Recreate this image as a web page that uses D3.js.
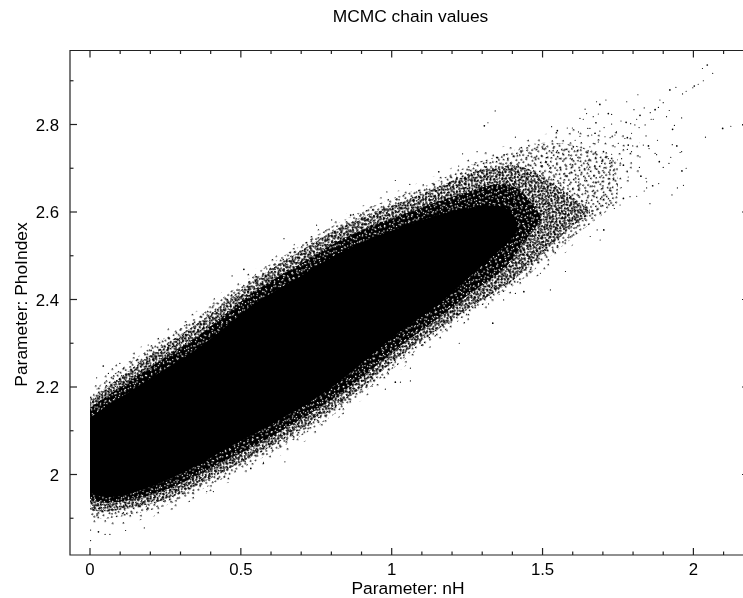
<!DOCTYPE html>
<html><head><meta charset="utf-8">
<script src="https://cdnjs.cloudflare.com/ajax/libs/d3/7.8.5/d3.min.js"></script>
<style>html,body{margin:0;padding:0;background:#fff;overflow:hidden}svg{display:block;filter:blur(0.4px)}text{font-family:"Liberation Sans",Arial,sans-serif;fill:#000}</style>
</head><body><div id="c"></div>
<script>
const titleText="MCMC chain values", xLabel="Parameter: nH", yLabel="Parameter: PhoIndex";
const xMajor=[0,0.5,1,1.5,2], yMajor=[2,2.2,2.4,2.6,2.8];
const xMinor=[0.1,0.2,0.3,0.4,0.6,0.7,0.8,0.9,1.1,1.2,1.3,1.4,1.6,1.7,1.8,1.9,2.1];
const yMinor=[1.9,2.1,2.3,2.5,2.7,2.9];
// saturated core of the cloud
const coreNH=[0,.033,.099,.242,.355,.464,.554,.696,.795,.935,1.027,1.160,1.270,1.382,1.415];
const coreHi=[2.129,2.147,2.175,2.239,2.285,2.346,2.399,2.451,2.497,2.543,2.563,2.598,2.611,2.621,2.577];
const coreLo=[1.958,1.949,1.946,1.981,2.019,2.065,2.095,2.152,2.193,2.273,2.330,2.387,2.461,2.525,2.554];
// nearly saturated ring
const nearNH=[0,.033,.099,.242,.355,.464,.554,.696,.795,.935,1.027,1.160,1.270,1.382,1.448,1.492];
const nearHi=[2.152,2.170,2.198,2.266,2.312,2.376,2.426,2.479,2.525,2.571,2.591,2.627,2.650,2.673,2.639,2.593];
const nearLo=[1.942,1.935,1.935,1.960,1.997,2.038,2.067,2.125,2.166,2.239,2.296,2.358,2.422,2.467,2.543,2.577];
// half-covered ring
const midNH=[0,.033,.099,.242,.355,.464,.554,.696,.795,.935,1.027,1.160,1.270,1.382,1.448,1.601,1.657];
const midHi=[2.170,2.189,2.221,2.296,2.342,2.403,2.451,2.509,2.554,2.600,2.621,2.657,2.696,2.707,2.707,2.634,2.605];
const midLo=[1.919,1.914,1.919,1.937,1.974,2.015,2.045,2.102,2.143,2.216,2.273,2.335,2.387,2.433,2.467,2.575,2.593];
// lightly covered ring
const lightNH=[0,.033,.099,.242,.355,.464,.554,.696,.795,.935,1.027,1.160,1.270,1.382,1.448,1.601,1.750];
const lightHi=[2.177,2.207,2.239,2.312,2.358,2.417,2.463,2.522,2.566,2.614,2.637,2.671,2.714,2.730,2.760,2.760,2.720];
const lightLo=[1.903,1.896,1.903,1.923,1.960,1.999,2.031,2.086,2.129,2.202,2.257,2.321,2.374,2.422,2.451,2.545,2.620];
// sparse outer ring
const sparseNH=[0,.033,.099,.242,.355,.464,.554,.696,.795,.935,1.027,1.160,1.270,1.382,1.448,1.601,1.723,1.823];
const sparseHi=[2.182,2.227,2.257,2.330,2.371,2.433,2.472,2.536,2.577,2.627,2.650,2.685,2.730,2.753,2.765,2.799,2.781,2.787];
const sparseLo=[1.885,1.873,1.885,1.907,1.946,1.983,2.015,2.067,2.113,2.189,2.239,2.307,2.358,2.410,2.433,2.513,2.639,2.685];
// individually readable chain samples
const sampleNH=[2.046,2.030,2.064,2.033,2.016,2.003,1.998,1.976,1.964,1.942,1.922,1.816,1.900,1.889,1.920,1.873,1.857,1.884,1.837,1.803,1.823,1.812,1.911,1.961,1.937,1.931,1.860,1.867,1.840,1.760,1.777,1.792,1.806,1.820,1.795,1.781,1.773,1.745,1.740,1.729,1.718,1.685,1.668,1.646,1.641,1.690,1.679,1.710,1.779,1.729,1.677,1.657,1.650,1.704,1.690,1.674,1.663,1.624,1.635,1.530,1.549,1.582,1.599,1.619,1.624,2.097,2.124,2.163,2.040,1.930,1.945,1.961,1.956,1.925,1.976,1.962,1.967,1.947,1.929,1.885,1.865,1.845,1.837,1.812,1.790,1.768,1.757,1.738,1.856,1.900,1.887,1.919,1.878,1.873,1.853,1.851,1.834,1.881,1.843,1.799,1.784,1.781,1.795,1.823,1.821,1.826,1.843,1.845,1.784,1.781,1.768,1.757,1.762,1.729,1.718,1.702,1.685,1.668,1.657,1.696,1.724,1.740,1.751,1.724,1.707,1.602,1.608,1.591,1.343,1.319,1.307,1.410,1.235,1.012,.984,1.156,1.060,1.283,1.222,1.526,1.438,1.410,1.576,1.493,1.691,1.703,1.681,1.658,1.062,1.029,1.012,1.062,.979,.935,1.224,1.335,1.321,1.371,.646,.575,.533,.180,.118,.050,.066,.028,.002,.002,.387,.409,.510,.643,.471,.751,.801,.864,.934,.586,.444,.193,.044,.099,.022,.061];
const samplePho=[2.936,2.928,2.917,2.900,2.892,2.888,2.884,2.876,2.870,2.885,2.879,2.868,2.850,2.856,2.832,2.834,2.827,2.839,2.838,2.834,2.821,2.812,2.818,2.815,2.798,2.789,2.812,2.812,2.799,2.808,2.805,2.802,2.799,2.793,2.780,2.770,2.768,2.783,2.776,2.823,2.825,2.824,2.818,2.825,2.835,2.846,2.852,2.856,2.852,2.801,2.804,2.791,2.791,2.793,2.785,2.780,2.776,2.814,2.812,2.795,2.786,2.792,2.792,2.783,2.773,2.791,2.796,2.799,2.771,2.754,2.751,2.738,2.736,2.725,2.700,2.694,2.661,2.655,2.639,2.665,2.660,2.655,2.648,2.636,2.635,2.631,2.616,2.608,2.619,2.702,2.715,2.711,2.731,2.734,2.745,2.751,2.753,2.764,2.774,2.751,2.753,2.743,2.738,2.726,2.702,2.682,2.677,2.669,2.680,2.692,2.707,2.707,2.722,2.732,2.722,2.738,2.760,2.757,2.749,2.711,2.696,2.749,2.757,2.770,2.772,2.749,2.764,2.753,2.831,2.804,2.797,2.771,2.733,2.672,2.646,2.692,2.663,2.738,2.705,2.422,2.418,2.414,2.464,2.460,2.536,2.559,2.559,2.544,2.243,2.211,2.211,2.214,2.195,2.202,2.300,2.346,2.390,2.399,2.029,2.028,2.014,1.878,1.872,1.863,1.863,1.869,1.849,1.873,1.961,1.961,2.469,2.539,2.454,2.570,2.582,2.593,2.612,2.470,2.404,2.296,2.248,2.254,2.221,2.231];

const W=743,H=598;
const x=d3.scaleLinear().domain([0,2]).range([90,693.4]);
const y=d3.scaleLinear().domain([2,2.8]).range([474.5,124.5]);
const L=70,R=749,T=50.5,B=555;
const svg=d3.select("#c").append("svg").attr("width",W).attr("height",H);
const defs=svg.append("defs");
function tile(id,size,dots,color,rot,s){
  const p=defs.append("pattern").attr("id",id).attr("patternUnits","userSpaceOnUse").attr("width",size).attr("height",size).attr("patternTransform",`rotate(${rot})`);
  p.selectAll("rect").data(dots).join("rect").attr("x",d=>d[0]).attr("y",d=>d[1]).attr("width",s).attr("height",s).attr("fill",color);
}
tile("k7",7,[[1,1],[4,3],[2,5],[6,6],[5,0]],"#000",-31,1.6);
tile("k11",11,[[0,2],[3,0],[7,1],[5,5],[9,4],[2,8],[8,9]],"#000",41,1.6);
tile("k13",13,[[1,3],[6,1],[10,5],[3,8],[8,10],[12,12],[5,6]],"#000",-13,1.6);
tile("l11",11,[[0,2],[7,1],[5,5],[2,8],[8,9]],"#000",-58,1.5);
tile("l17",17,[[2,2],[9,1],[14,6],[5,9],[11,12],[1,15],[16,14]],"#000",29,1.5);
tile("s19",19,[[3,2],[12,5],[7,11],[16,14],[1,16]],"#000",67,1.4);
tile("w7",7,[[1,1],[5,4]],"#fff",23,1.15);
tile("w11",11,[[0,2],[7,1],[5,5],[2,8],[8,9]],"#fff",-37,1.15);
tile("w13",13,[[1,3],[6,1],[10,5],[3,8],[8,10]],"#fff",53,1.15);
const area=(xs,hi,lo)=>d3.area().curve(d3.curveBasis).x((d,i)=>x(xs[i])).y0((d,i)=>y(lo[i])).y1((d,i)=>y(hi[i]))(xs);
function band(xs,hi,lo,fills){fills.forEach(f=>svg.append("path").attr("d",area(xs,hi,lo)).attr("fill",f));}
band(sparseNH,sparseHi,sparseLo,["url(#s19)"]);
band(lightNH,lightHi,lightLo,["url(#l11)","url(#l17)"]);
band(midNH,midHi,midLo,["url(#k7)","url(#k11)","url(#k13)"]);
band(nearNH,nearHi,nearLo,["#000","url(#w7)","url(#w11)","url(#w13)"]);
band(coreNH,coreHi,coreLo,["#000"]);
svg.append("g").selectAll("circle").data(sampleNH).join("circle")
  .attr("cx",d=>x(d)).attr("cy",(d,i)=>y(samplePho[i])).attr("r",(d,i)=>i%5==0?0.85:0.6).attr("fill","#000");

const frame=svg.append("g").attr("stroke","#222").attr("stroke-width",1.2).attr("fill","none");
frame.append("path").attr("d",d3.line()([[R,T],[L,T],[L,B],[R,B],[R,T]]));
function ticks(vals,len){
  vals.forEach(v=>{
    const px=x(v);
    frame.append("line").attr("x1",px).attr("x2",px).attr("y1",B).attr("y2",B-len);
    frame.append("line").attr("x1",px).attr("x2",px).attr("y1",T).attr("y2",T+len);
  });
}
function yticks(vals,len){
  vals.forEach(v=>{
    const py=y(v);
    frame.append("line").attr("y1",py).attr("y2",py).attr("x1",L).attr("x2",L+len);
    frame.append("line").attr("y1",py).attr("y2",py).attr("x1",R).attr("x2",R-len);
  });
}
ticks(xMajor,7);ticks(xMinor,3.5);yticks(yMajor,7);yticks(yMinor,3.5);
xMajor.forEach(v=>svg.append("text").attr("x",x(v)).attr("y",574.5).attr("text-anchor","middle").attr("font-size",16.8).text(d3.format("")(v)));
yMajor.forEach(v=>svg.append("text").attr("x",59).attr("y",y(v)+6).attr("text-anchor","end").attr("font-size",16.8).text(d3.format("")(v)));
svg.append("text").attr("x",410.5).attr("y",22).attr("text-anchor","middle").attr("font-size",17.4).text(titleText);
svg.append("text").attr("x",408).attr("y",594).attr("text-anchor","middle").attr("font-size",17.4).text(xLabel);
svg.append("text").attr("transform","translate(27,304.5) rotate(-90)").attr("text-anchor","middle").attr("font-size",17.4).text(yLabel);
</script></body></html>
